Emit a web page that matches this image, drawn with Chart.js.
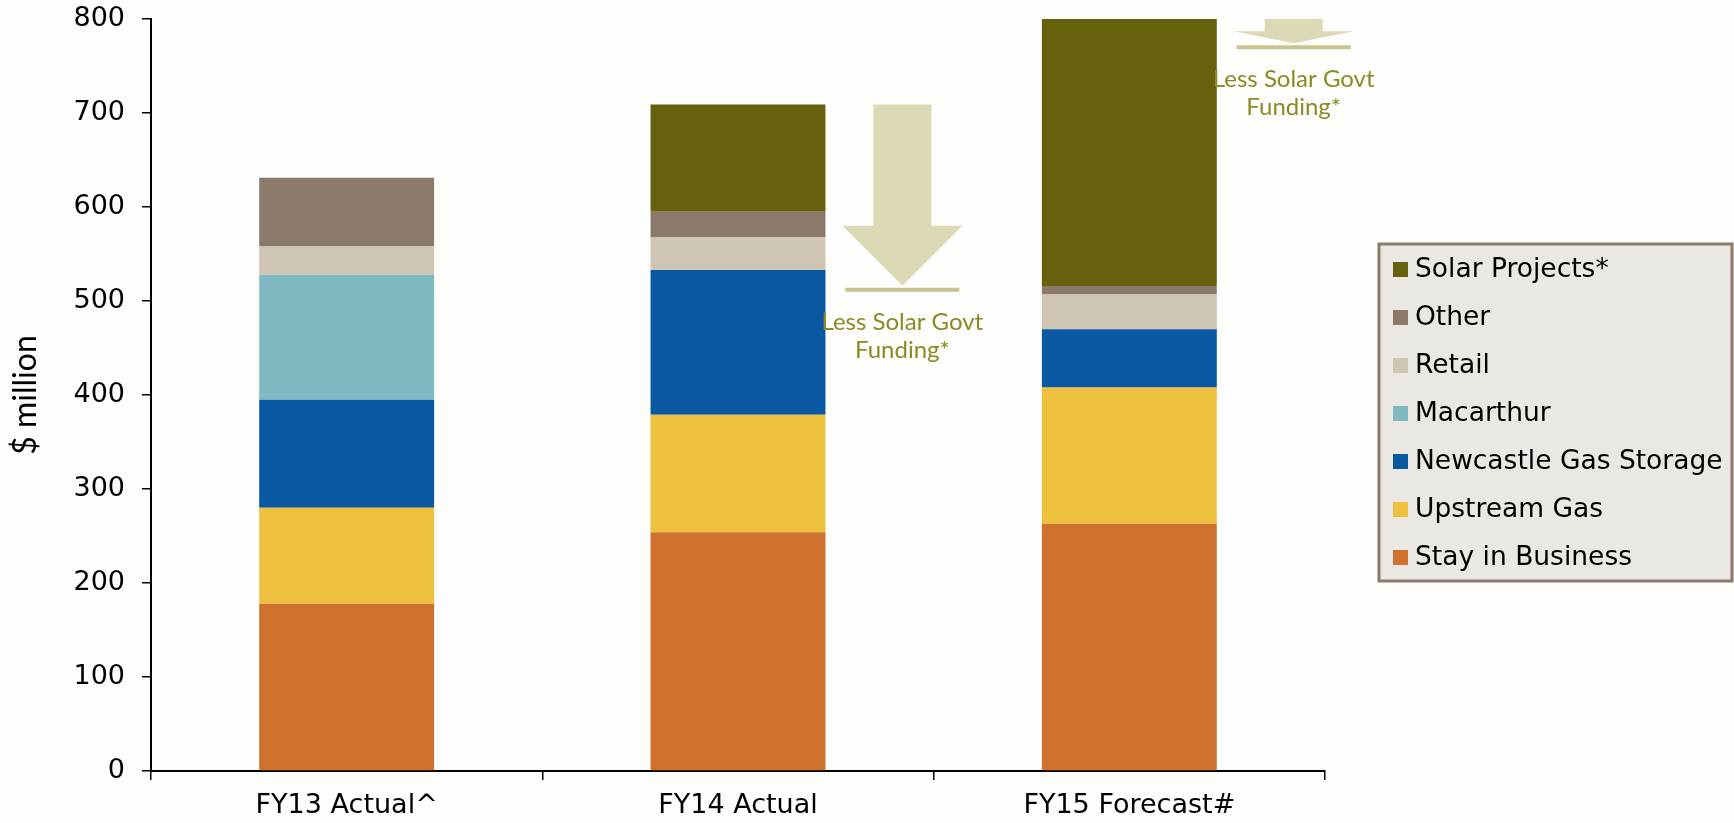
<!DOCTYPE html>
<html>
<head>
<meta charset="utf-8">
<script src="https://cdn.jsdelivr.net/npm/chart.js@4"></script>
<style>
  html, body { margin: 0; padding: 0; background: #fdfdfc; }
  #wrap { width: 1734px; height: 823px; position: relative; }
</style>
</head>
<body>
<div id="wrap"><canvas id="myChart"></canvas></div>
<script>
// categories and series ($ million), bottom of stack first
const categories = ['FY13 Actual^', 'FY14 Actual', 'FY15 Forecast#'];
const stayInBusiness = [178, 254, 263];
const upstreamGas = [102, 125, 145];
const newcastleGasStorage = [115, 154, 62];
const macarthur = [133, 0, 0];
const retail = [30, 35, 37];
const other = [73, 27, 9];
const solarProjects = [0, 114, 284];

// solar govt funding arrows: from top of bar down to this value
const fundingTop = [null, 709, 800];
const fundingBase = [null, 513, 771];
const fundingLabel = ['Less Solar Govt', 'Funding*'];

const yTicks = [0, 100, 200, 300, 400, 500, 600, 700, 800];

const tickFont = { family: 'DejaVu Sans', size: 27 };

// draw the "less solar govt funding" arrows next to the bars
const fundingArrows = {
    id: 'fundingArrows',
    afterDatasetsDraw(chart) {
        const ctx = chart.ctx;
        const x = chart.scales.x;
        const y = chart.scales.y;
        const catWidth = x.getPixelForValue(1) - x.getPixelForValue(0);
        ctx.save();
        fundingTop.forEach(function(top, i) {
            if (top === null) return;
            const cx = x.getPixelForValue(i) + 0.42 * catWidth;
            const yTop = y.getPixelForValue(top);
            const yBase = y.getPixelForValue(fundingBase[i]);
            const tip = yBase - 3;
            const headH = Math.min(60, (tip - yTop) * 0.5);
            ctx.fillStyle = '#dcdab6';
            ctx.beginPath();
            ctx.moveTo(cx - 29, yTop);
            ctx.lineTo(cx + 29, yTop);
            ctx.lineTo(cx + 29, tip - headH);
            ctx.lineTo(cx + 60, tip - headH);
            ctx.lineTo(cx, tip);
            ctx.lineTo(cx - 60, tip - headH);
            ctx.lineTo(cx - 29, tip - headH);
            ctx.closePath();
            ctx.fill();
            ctx.fillStyle = '#c8c48e';
            ctx.fillRect(cx - 57, yBase - 1, 114, 4);
            ctx.fillStyle = '#8c8a24';
            ctx.font = '24px Lato';
            ctx.textAlign = 'center';
            ctx.textBaseline = 'middle';
            ctx.fillText(fundingLabel[0], cx, yBase + 33);
            ctx.fillText(fundingLabel[1], cx, yBase + 61);
        });
        ctx.restore();
    }
};

// boxed legend on the right, top item = last dataset
const boxLegend = {
    id: 'boxLegend',
    afterDraw(chart) {
        const ctx = chart.ctx;
        const sets = chart.data.datasets.slice().reverse();
        ctx.save();
        ctx.fillStyle = '#ebe7e2';
        ctx.fillRect(1379, 244, 353, 337);
        ctx.strokeStyle = '#8c7b6b';
        ctx.lineWidth = 3;
        ctx.strokeRect(1379, 244, 353, 337);
        ctx.font = '26.5px "DejaVu Sans"';
        ctx.textBaseline = 'middle';
        ctx.textAlign = 'left';
        sets.forEach(function(ds, i) {
            const cy = 269 + i * 48;
            ctx.fillStyle = ds.backgroundColor;
            ctx.fillRect(1393, cy - 7, 15, 15);
            ctx.fillStyle = '#000';
            ctx.fillText(ds.label, 1415, cy + 1);
        });
        ctx.restore();
    }
};

const ctx = document.getElementById('myChart');

new Chart(ctx, {
    type: 'bar',
    data: {
        labels: categories,
        datasets: [
            { label: 'Stay in Business', data: stayInBusiness, backgroundColor: '#cf722e' },
            { label: 'Upstream Gas', data: upstreamGas, backgroundColor: '#edc13e' },
            { label: 'Newcastle Gas Storage', data: newcastleGasStorage, backgroundColor: '#0b58a2' },
            { label: 'Macarthur', data: macarthur, backgroundColor: '#80b9c2' },
            { label: 'Retail', data: retail, backgroundColor: '#cfc5b3' },
            { label: 'Other', data: other, backgroundColor: '#8b796a' },
            { label: 'Solar Projects*', data: solarProjects, backgroundColor: '#66610c' }
        ]
    },
    options: {
        responsive: true,
        maintainAspectRatio: false,
        animation: false,
        layout: { padding: { top: 19, right: 409, left: 0, bottom: 0 } },
        datasets: { bar: { categoryPercentage: 1, barPercentage: 0.447 } },
        scales: {
            x: {
                stacked: true,
                grid: { drawOnChartArea: false, drawTicks: true, tickLength: 9, color: '#000', lineWidth: 1.5 },
                border: { display: true, color: '#000', width: 2 },
                ticks: { color: '#000', font: tickFont, padding: 10, maxRotation: 0 },
                afterFit: function(scale) { scale.height = 52; }
            },
            y: {
                stacked: true,
                min: 0,
                max: 800,
                afterBuildTicks: function(scale) {
                    scale.ticks = yTicks.map(function(v) { return { value: v }; });
                },
                grid: { drawOnChartArea: false, drawTicks: true, tickLength: 9, color: '#000', lineWidth: 1.5 },
                border: { display: true, color: '#000', width: 2 },
                ticks: { color: '#000', font: tickFont, padding: 17 },
                title: {
                    display: true,
                    text: '$ million',
                    color: '#000',
                    font: { family: 'Lato', size: 32 },
                    padding: { top: 6, bottom: 0 }
                },
                afterFit: function(scale) {
                    scale.width = 151;
                    scale.paddingTop = 0;
                    scale.paddingBottom = 0;
                }
            }
        },
        plugins: {
            legend: { display: false },
            tooltip: { enabled: false }
        }
    },
    plugins: [fundingArrows, boxLegend]
});
</script>
</body>
</html>
